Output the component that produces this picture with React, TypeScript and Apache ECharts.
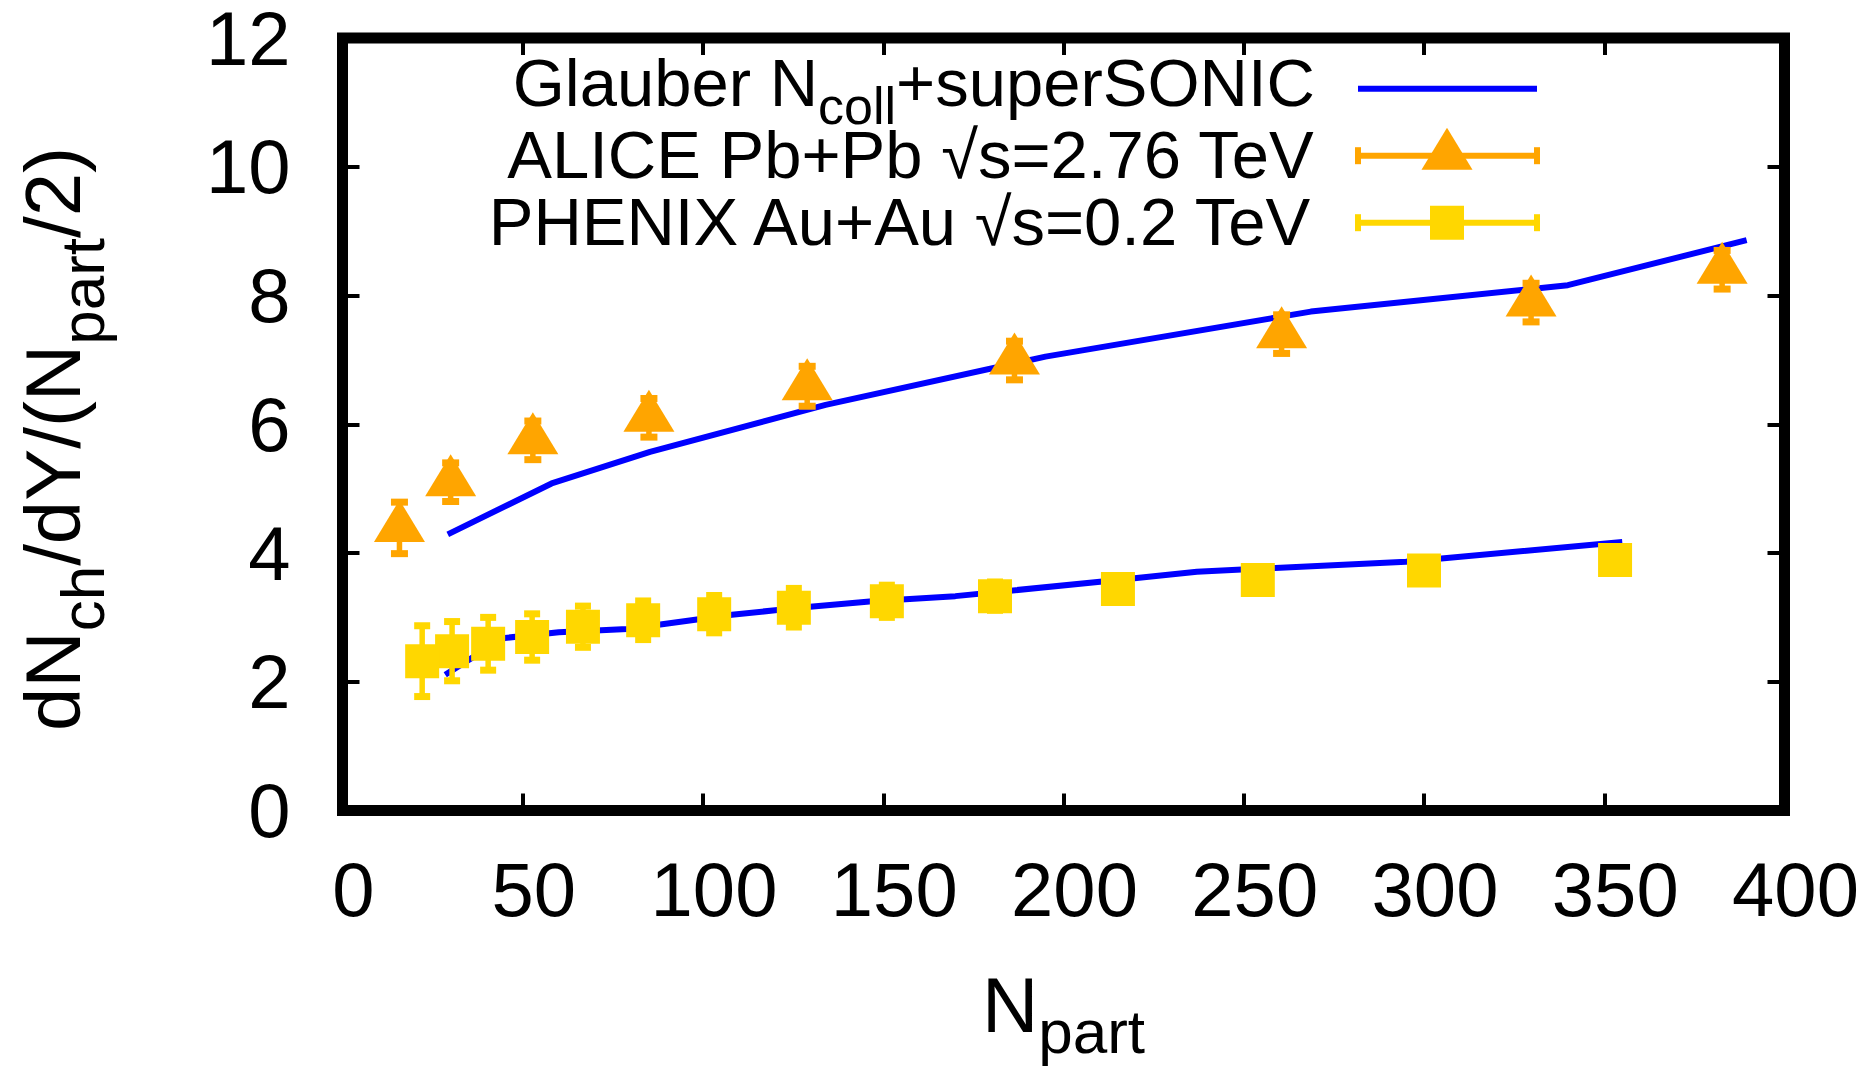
import React, { useEffect, useRef } from "react";
import * as echarts from "echarts";

const FONT = '"Liberation Sans", Arial, Helvetica, sans-serif';

// ALICE Pb+Pb 2.76 TeV
const aliceNpart = [382.7, 329.7, 260.5, 186.4, 128.9, 85.0, 52.8, 30.0, 15.8];
const aliceVal = [8.4, 7.89, 7.4, 6.99, 6.59, 6.1, 5.75, 5.1, 4.39];
const aliceErr = [0.3, 0.3, 0.3, 0.3, 0.31, 0.3, 0.3, 0.3, 0.4];

// PHENIX Au+Au 0.2 TeV
const phenixNpart = [353.0, 300.0, 253.9, 215.1, 181.0, 151.0, 125.2, 103.1, 83.4, 66.7, 52.6, 40.4, 30.4, 22.1];
const phenixVal = [3.89, 3.73, 3.58, 3.44, 3.33, 3.25, 3.15, 3.05, 2.955, 2.855, 2.695, 2.59, 2.475, 2.32];
const phenixErr = [0.2, 0.2, 0.2, 0.2, 0.22, 0.25, 0.3, 0.29, 0.3, 0.32, 0.36, 0.41, 0.46, 0.55];

// Glauber Ncoll + superSONIC curves
const lhcTheoryNpart = [29.2, 58, 85.3, 134, 195, 268.6, 339.9, 389.5];
const lhcTheoryVal = [4.29, 5.08, 5.57, 6.3, 7.05, 7.75, 8.16, 8.86];
const rhicTheoryNpart = [28.5, 35, 45, 60, 79, 108, 125, 147, 170, 215, 237, 295, 355];
const rhicTheoryVal = [2.11, 2.34, 2.68, 2.77, 2.82, 3.04, 3.14, 3.25, 3.33, 3.58, 3.71, 3.865, 4.17];

const X_MIN = 0, X_MAX = 400, X_STEP = 50;
const Y_MIN = 0, Y_MAX = 12, Y_STEP = 2;

const legendRow1 = [
  { t: "Glauber N", sub: false },
  { t: "coll", sub: true },
  { t: "+superSONIC", sub: false },
];
const legendRow2 = [{ t: "ALICE Pb+Pb \u221As=2.76 TeV", sub: false }];
const legendRow3 = [{ t: "PHENIX Au+Au \u221As=0.2 TeV", sub: false }];
const xTitle = [
  { t: "N", sub: false },
  { t: "part", sub: true },
];
const yTitle = [
  { t: "dN", sub: false },
  { t: "ch", sub: true },
  { t: "/dY/(N", sub: false },
  { t: "part", sub: true },
  { t: "/2)", sub: false },
];

const BLUE = "#0000ff";
const ORANGE = "#ffa500";
const GOLD = "#ffd700";

let ctx: CanvasRenderingContext2D | null = null;
function measure(t: string, fs: number) {
  if (!ctx) ctx = document.createElement("canvas").getContext("2d");
  ctx!.font = `${fs}px ${FONT}`;
  return ctx!.measureText(t).width;
}

const CENTRAL = 0.3465;

function buildPieces(pieces: { t: string; sub: boolean }[], fs: number, subFs: number, subShift: number, x0: number) {
  let x = x0;
  const out: any[] = [];
  pieces.forEach((p) => {
    const f = p.sub ? subFs : fs;
    const dy = p.sub ? subShift : 0;
    out.push({
      type: "text",
      x,
      y: dy - CENTRAL * f,
      style: {
        text: p.t,
        fontSize: f,
        fontFamily: FONT,
        fill: "#000",
        align: "left",
        verticalAlign: "middle",
        textAlign: "left",
        textVerticalAlign: "middle",
      },
    });
    x += measure(p.t, f);
  });
  return { out, width: x - x0 };
}
function piecesWidth(pieces: { t: string; sub: boolean }[], fs: number, subFs: number) {
  return pieces.reduce((s, p) => s + measure(p.t, p.sub ? subFs : fs), 0);
}

function errRender(color: string, capW: number) {
  return (params: any, api: any) => {
    const x = api.value(0);
    const y = api.value(1);
    const e = api.value(2);
    const hi = api.coord([x, y + e]);
    const lo = api.coord([x, y - e]);
    const hw = capW / 2;
    return {
      type: "group",
      children: [
        { type: "line", shape: { x1: hi[0], y1: hi[1], x2: lo[0], y2: lo[1] }, style: { stroke: color, lineWidth: 5.5 } },
        { type: "line", shape: { x1: hi[0] - hw, y1: hi[1], x2: hi[0] + hw, y2: hi[1] }, style: { stroke: color, lineWidth: 7 } },
        { type: "line", shape: { x1: lo[0] - hw, y1: lo[1], x2: lo[0] + hw, y2: lo[1] }, style: { stroke: color, lineWidth: 7 } },
      ],
    };
  };
}

export default function App() {
  const ref = useRef<HTMLDivElement>(null);
  useEffect(() => {
    if (!ref.current) return;
    const chart = echarts.init(ref.current, undefined, { renderer: "svg" });

    const TICK_FS = 76;
    const LEG_FS = 67;
    const LEG_SUB = 52;
    const TITLE_FS = 78;
    const TITLE_SUB = 62;

    const legRight = 1315;
    const rows = [
      { pieces: legendRow1, base: 106 },
      { pieces: legendRow2, base: 178 },
      { pieces: legendRow3, base: 245 },
    ];
    const legendTexts: any[] = [];
    rows.forEach((r) => {
      const w = piecesWidth(r.pieces, LEG_FS, LEG_SUB);
      const built = buildPieces(r.pieces, LEG_FS, LEG_SUB, 18, legRight - w);
      legendTexts.push({ type: "group", x: 0, y: r.base, children: built.out });
    });
    const sx1 = 1358, sx2 = 1537, scx = 1447;
    const r1y = 88.7, r2y = 155.7, r3y = 222.7;
    const legendMarks: any[] = [
      { type: "line", shape: { x1: sx1, y1: r1y, x2: sx2, y2: r1y }, style: { stroke: BLUE, lineWidth: 6 } },
      { type: "line", shape: { x1: sx1, y1: r2y, x2: sx2, y2: r2y }, style: { stroke: ORANGE, lineWidth: 6 } },
      { type: "line", shape: { x1: sx1, y1: r2y - 8.5, x2: sx1, y2: r2y + 8.5 }, style: { stroke: ORANGE, lineWidth: 6 } },
      { type: "line", shape: { x1: sx2, y1: r2y - 8.5, x2: sx2, y2: r2y + 8.5 }, style: { stroke: ORANGE, lineWidth: 6 } },
      {
        type: "polygon",
        shape: { points: [[scx, r2y - 28], [scx + 25.5, r2y + 14], [scx - 25.5, r2y + 14]] },
        style: { fill: ORANGE },
      },
      { type: "line", shape: { x1: sx1, y1: r3y, x2: sx2, y2: r3y }, style: { stroke: GOLD, lineWidth: 6 } },
      { type: "line", shape: { x1: sx1, y1: r3y - 8.5, x2: sx1, y2: r3y + 8.5 }, style: { stroke: GOLD, lineWidth: 6 } },
      { type: "line", shape: { x1: sx2, y1: r3y - 8.5, x2: sx2, y2: r3y + 8.5 }, style: { stroke: GOLD, lineWidth: 6 } },
      { type: "rect", shape: { x: scx - 17, y: r3y - 17, width: 34, height: 34 }, style: { fill: GOLD } },
    ];

    const xw = piecesWidth(xTitle, TITLE_FS, TITLE_SUB);
    const xBuilt = buildPieces(xTitle, TITLE_FS, TITLE_SUB, 21, -xw / 2);
    const yw = piecesWidth(yTitle, TITLE_FS, TITLE_SUB);
    const yBuilt = buildPieces(yTitle, TITLE_FS, TITLE_SUB, 24, -yw / 2);

    const tick = { show: true, inside: true, length: 17, lineStyle: { color: "#000", width: 4 } };
    const noLine = { show: false, onZero: false };

    const option: any = {
      animation: false,
      backgroundColor: "#fff",
      grid: {
        show: true,
        left: 342.5,
        top: 38,
        right: 90.5,
        bottom: 257.5,
        borderColor: "#000",
        borderWidth: 11,
        backgroundColor: "transparent",
      },
      xAxis: [
        {
          type: "value",
          min: X_MIN,
          max: X_MAX,
          interval: X_STEP,
          position: "bottom",
          axisLine: noLine,
          axisTick: tick,
          axisLabel: {
            show: true,
            fontSize: TICK_FS,
            fontFamily: FONT,
            color: "#000",
            margin: 41,
            padding: [0, 0, 0, 22],
          },
          splitLine: { show: false },
        },
        {
          type: "value",
          min: X_MIN,
          max: X_MAX,
          interval: X_STEP,
          position: "top",
          axisLine: noLine,
          axisTick: tick,
          axisLabel: { show: false },
          splitLine: { show: false },
        },
      ],
      yAxis: [
        {
          type: "value",
          min: Y_MIN,
          max: Y_MAX,
          interval: Y_STEP,
          position: "left",
          axisLine: noLine,
          axisTick: tick,
          axisLabel: { show: true, fontSize: TICK_FS, fontFamily: FONT, color: "#000", margin: 52 },
          splitLine: { show: false },
        },
        {
          type: "value",
          min: Y_MIN,
          max: Y_MAX,
          interval: Y_STEP,
          position: "right",
          axisLine: noLine,
          axisTick: tick,
          axisLabel: { show: false },
          splitLine: { show: false },
        },
      ],
      series: [
        {
          name: "Glauber Ncoll+superSONIC (LHC)",
          type: "line",
          data: lhcTheoryNpart.map((x, i) => [x, lhcTheoryVal[i]]),
          showSymbol: false,
          lineStyle: { color: BLUE, width: 6 },
          z: 2,
        },
        {
          name: "Glauber Ncoll+superSONIC (RHIC)",
          type: "line",
          data: rhicTheoryNpart.map((x, i) => [x, rhicTheoryVal[i]]),
          showSymbol: false,
          lineStyle: { color: BLUE, width: 6 },
          z: 2,
        },
        {
          name: "ALICE err",
          type: "custom",
          renderItem: errRender(ORANGE, 17),
          data: aliceNpart.map((x, i) => [x, aliceVal[i], aliceErr[i]]),
          encode: { x: 0, y: 1 },
          z: 3,
        },
        {
          name: "PHENIX err",
          type: "custom",
          renderItem: errRender(GOLD, 16),
          data: phenixNpart.map((x, i) => [x, phenixVal[i], phenixErr[i]]),
          encode: { x: 0, y: 1 },
          z: 3,
        },
        {
          name: "ALICE Pb+Pb",
          type: "scatter",
          data: aliceNpart.map((x, i) => [x, aliceVal[i]]),
          symbol: "triangle",
          symbolSize: [51, 42],
          symbolOffset: [0, -7],
          itemStyle: { color: ORANGE, opacity: 1 },
          z: 4,
        },
        {
          name: "PHENIX Au+Au",
          type: "scatter",
          data: phenixNpart.map((x, i) => [x, phenixVal[i]]),
          symbol: "rect",
          symbolSize: 34,
          itemStyle: { color: GOLD, opacity: 1 },
          z: 4,
        },
      ],
      graphic: [
        ...legendTexts,
        ...legendMarks,
        { type: "group", x: 1063.5, y: 1032, children: xBuilt.out },
        { type: "group", x: 80, y: 439, rotation: Math.PI / 2, children: yBuilt.out },
      ],
    };
    chart.setOption(option);
    return () => chart.dispose();
  }, []);
  return (
    <div
      ref={ref}
      style={{ position: "fixed", left: 0, top: 0, width: "1875px", height: "1068px", background: "#fff" }}
    />
  );
}
